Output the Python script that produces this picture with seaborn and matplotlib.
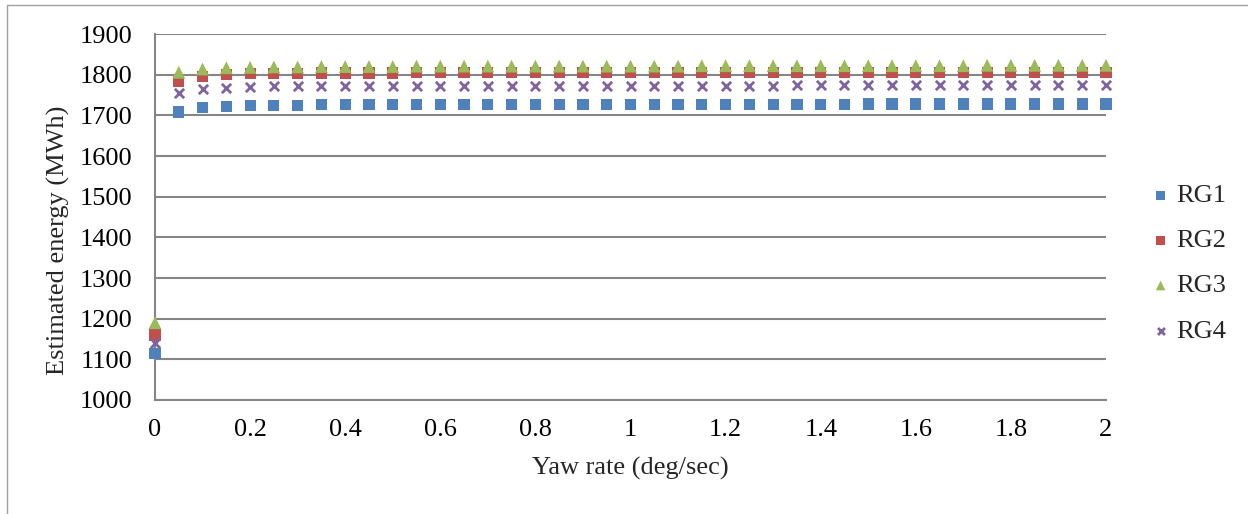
import pandas as pd
import seaborn as sns
import matplotlib.pyplot as plt
from matplotlib.patches import Rectangle

# yaw rate values (deg/sec)
yaw_rate = [0.0, 0.05, 0.1, 0.15, 0.2, 0.25, 0.3, 0.35, 0.4, 0.45,
            0.5, 0.55, 0.6, 0.65, 0.7, 0.75, 0.8, 0.85, 0.9, 0.95,
            1.0, 1.05, 1.1, 1.15, 1.2, 1.25, 1.3, 1.35, 1.4, 1.45,
            1.5, 1.55, 1.6, 1.65, 1.7, 1.75, 1.8, 1.85, 1.9, 1.95, 2.0]

# estimated energy (MWh) per group
rg1 = [1115, 1708, 1719, 1722, 1724, 1725, 1725, 1726, 1726, 1726,
       1726, 1726, 1726, 1726, 1726, 1727, 1727, 1727, 1727, 1727,
       1727, 1727, 1727, 1727, 1727, 1727, 1727, 1727, 1727, 1727,
       1728, 1728, 1728, 1728, 1728, 1728, 1728, 1728, 1728, 1728, 1728]
rg2 = [1160, 1784, 1796, 1800, 1802, 1803, 1803, 1804, 1804, 1804,
       1804, 1805, 1805, 1805, 1805, 1805, 1805, 1805, 1805, 1805,
       1805, 1805, 1805, 1805, 1806, 1806, 1806, 1806, 1806, 1806,
       1806, 1806, 1806, 1806, 1806, 1806, 1806, 1806, 1806, 1806, 1806]
rg3 = [1190, 1806, 1814, 1817, 1818, 1819, 1819, 1820, 1820, 1820,
       1820, 1821, 1821, 1821, 1821, 1821, 1821, 1821, 1821, 1821,
       1821, 1821, 1821, 1822, 1822, 1822, 1822, 1822, 1822, 1822,
       1822, 1822, 1822, 1822, 1822, 1823, 1823, 1823, 1823, 1823, 1823]
rg4 = [1140, 1755, 1765, 1768, 1770, 1771, 1771, 1772, 1772, 1772,
       1772, 1772, 1772, 1773, 1773, 1773, 1773, 1773, 1773, 1773,
       1773, 1773, 1773, 1773, 1773, 1773, 1773, 1774, 1774, 1774,
       1774, 1774, 1774, 1774, 1774, 1774, 1774, 1774, 1774, 1774, 1774]

df = pd.DataFrame({'yaw': yaw_rate, 'RG1': rg1, 'RG2': rg2, 'RG3': rg3, 'RG4': rg4})

sns.set_style('white')
plt.rcParams['font.family'] = ['Liberation Serif', 'DejaVu Serif']

grid_col = '#868686'
fs = 19
fig = plt.figure(figsize=(12.48, 5.14), dpi=100)
ax = fig.add_axes([155 / 1248, 114 / 514, 951 / 1248, 366 / 514])

series = [
    ('RG1', '#4F81BD', 's', 65),
    ('RG2', '#C0504D', 's', 65),
    ('RG3', '#9BBB59', '^', 85),
    ('RG4', '#8064A2', 'x', 45),
]
for name, col, mk, size in series:
    if mk == 'x':
        sns.scatterplot(data=df, x='yaw', y=name, color=col, marker=mk, s=size,
                        linewidth=2, label=name, ax=ax, zorder=3, clip_on=False)
    else:
        sns.scatterplot(data=df, x='yaw', y=name, color=col, marker=mk, s=size,
                        edgecolor='none', label=name, ax=ax, zorder=3, clip_on=False)

ax.set_xlim(0, 2)
ax.set_ylim(1000, 1900)
ax.set_xticks([0, 0.2, 0.4, 0.6, 0.8, 1.0, 1.2, 1.4, 1.6, 1.8, 2.0])
ax.set_xticklabels(['0', '0.2', '0.4', '0.6', '0.8', '1', '1.2', '1.4', '1.6', '1.8', '2'])
ax.set_yticks(range(1000, 1901, 100))
ax.yaxis.grid(True, color=grid_col, linewidth=1.5)
ax.set_axisbelow(True)
ax.tick_params(axis='both', labelsize=fs, colors=grid_col, labelcolor='black',
               length=5, width=1.5, direction='out')
ax.tick_params(axis='x', pad=9)
ax.tick_params(axis='y', pad=11)
for s in ['top', 'right']:
    ax.spines[s].set_visible(False)
for s in ['left', 'bottom']:
    ax.spines[s].set_color(grid_col)
    ax.spines[s].set_linewidth(1.5)

ax.set_xlabel('Yaw rate (deg/sec)', fontsize=fs)
ax.set_ylabel('Estimated energy (MWh)', fontsize=fs)
ax.xaxis.set_label_coords(0.4995, -0.186)
ax.yaxis.set_label_coords(-0.102, 0.437)
ax.xaxis.label.set_va('center')
ax.yaxis.label.set_va('center')

handles, labels = ax.get_legend_handles_labels()
ax.get_legend().remove()
fig.legend(handles, labels, loc='center left', bbox_to_anchor=(1121 / 1248, 0.488),
           frameon=False, fontsize=fs, markerscale=0.75, labelspacing=0.82,
           handletextpad=0.0, handlelength=1.2)

# outer chart border
fig.patches.append(Rectangle((7 / 1248, -0.01), 1.2, 1 - 5 / 514 + 0.01,
                             transform=fig.transFigure, fill=False,
                             edgecolor='#A0A0A0', linewidth=1))

fig.savefig('out.png', dpi=100)
